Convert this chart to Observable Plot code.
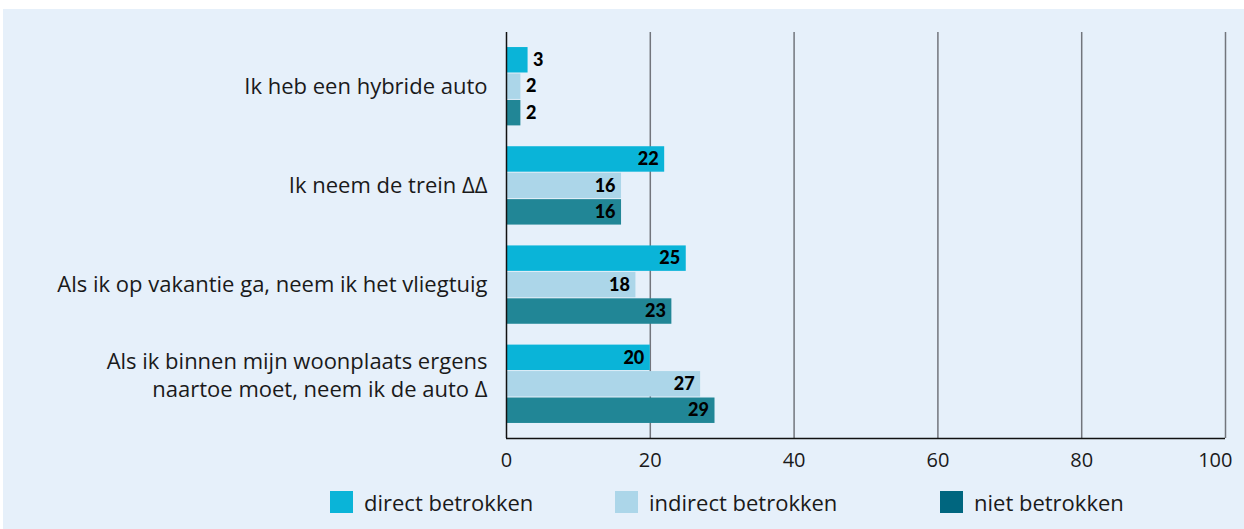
<!DOCTYPE html>
<html>
<head>
<meta charset="utf-8">
<script src="https://cdn.jsdelivr.net/npm/d3@7"></script>
<script src="https://cdn.jsdelivr.net/npm/@observablehq/plot@0.6"></script>
<style>
  html, body { margin: 0; padding: 0; background: #ffffff; }
  #panel { position: absolute; left: 3px; top: 9px; width: 1241px; height: 520px; background: #e6f0fa; font-family: "Open Sans", Lato, sans-serif; }
  #chart { position: absolute; left: 0; top: 0; }
  .legend-item { position: absolute; top: 478px; display: flex; align-items: center; font-size: 22px; color: #1a1a1a; white-space: nowrap; }
  .legend-item .sw { display: inline-block; width: 23px; height: 22px; margin-right: 11px; }
</style>
</head>
<body>
<div id="panel">
  <div id="chart"></div>
  <div id="legend"></div>
</div>
<script>
// ---- data ----
const categories = [
  "Ik heb een hybride auto",
  "Ik neem de trein ΔΔ",
  "Als ik op vakantie ga, neem ik het vliegtuig",
  "Als ik binnen mijn woonplaats ergens\nnaartoe moet, neem ik de auto Δ"
];
const series = ["direct betrokken", "indirect betrokken", "niet betrokken"];
const directValues = [3, 22, 25, 20];
const indirectValues = [2, 16, 18, 27];
const nietValues = [2, 16, 23, 29];
const xTicks = [0, 20, 40, 60, 80, 100];

// ---- styling ----
const barColors = ["#0ab4d8", "#acd6e9", "#218696"];
const legendColors = ["#0ab4d8", "#acd6e9", "#00667f"];
const groupStep = 3.75; // 3 bars + gap (in bar units)

const valuesBySeries = [directValues, indirectValues, nietValues];
const rows = categories.flatMap((cat, gi) =>
  series.map((s, si) => ({
    cat, series: s, value: valuesBySeries[si][gi],
    y1: gi * groupStep + si, y2: gi * groupStep + si + 1
  }))
);
const labelRows = categories.map((cat, gi) => ({ cat, y: gi * groupStep + 1.5, multi: cat.includes("\n") }));
const yMin = -0.55, yMax = (categories.length - 1) * groupStep + 3 + 0.55;
const xMax = xTicks[xTicks.length - 1];

const labelFont = "'Open Sans', Lato, sans-serif";
const chart = Plot.plot({
  width: 1241,
  height: 470,
  marginLeft: 503,
  marginRight: 19,
  marginTop: 23,
  marginBottom: 41,
  style: { background: "transparent", fontFamily: labelFont, fontSize: "20px", color: "#1a1a1a" },
  x: { domain: [0, xMax], axis: null },
  y: { type: "linear", domain: [yMin, yMax], reverse: true, axis: null },
  color: { domain: series, range: barColors },
  marks: [
    Plot.ruleX(xTicks.filter(d => d > 0), { stroke: "#72757c", strokeWidth: 1.5 }),
    Plot.rect(rows, { x1: 0, x2: "value", y1: "y1", y2: "y2", fill: "series", insetTop: 0.5, insetBottom: 0.5 }),
    Plot.ruleX([0], { stroke: "#111", strokeWidth: 1.5 }),
    Plot.ruleY([yMax], { stroke: "#111", strokeWidth: 1.5 }),
    // x tick labels
    Plot.text(xTicks.filter(d => d < xMax), {
      x: d => d, y: () => yMax, text: d => String(d), dy: 22,
      fontSize: 20, fill: "#1a1a1a", textAnchor: "middle"
    }),
    Plot.text(xTicks.filter(d => d === xMax), {
      x: d => d, y: () => yMax, text: d => String(d), dy: 22, dx: 7,
      fontSize: 20, fill: "#1a1a1a", textAnchor: "end"
    }),
    Plot.text(rows.filter(d => d.value >= 5), {
      x: "value", y: d => (d.y1 + d.y2) / 2, text: d => String(d.value),
      textAnchor: "end", dx: -6, fontWeight: 900, fontSize: 18, fill: "#000", fontFamily: "Lato, sans-serif"
    }),
    Plot.text(rows.filter(d => d.value < 5), {
      x: "value", y: d => (d.y1 + d.y2) / 2, text: d => String(d.value),
      textAnchor: "start", dx: 5, fontWeight: 900, fontSize: 18, fill: "#000", fontFamily: "Lato, sans-serif"
    }),
    Plot.text(labelRows.filter(d => !d.multi), {
      x: 0, y: "y", text: "cat", textAnchor: "end", dx: -19,
      fontSize: 22, fill: "#1a1a1a"
    }),
    Plot.text(labelRows.filter(d => d.multi), {
      x: 0, y: "y", text: "cat", textAnchor: "end", dx: -19, dy: -10,
      fontSize: 22, fill: "#1a1a1a", lineHeight: 1.27
    })
  ]
});
document.getElementById("chart").appendChild(chart);

// ---- legend ----
const legendLefts = [327, 612, 937];
const legend = document.getElementById("legend");
series.forEach((s, i) => {
  const item = document.createElement("div");
  item.className = "legend-item";
  item.style.left = legendLefts[i] + "px";
  const sw = document.createElement("span");
  sw.className = "sw";
  sw.style.background = legendColors[i];
  const t = document.createElement("span");
  t.textContent = s;
  item.appendChild(sw);
  item.appendChild(t);
  legend.appendChild(item);
});
</script>
</body>
</html>
